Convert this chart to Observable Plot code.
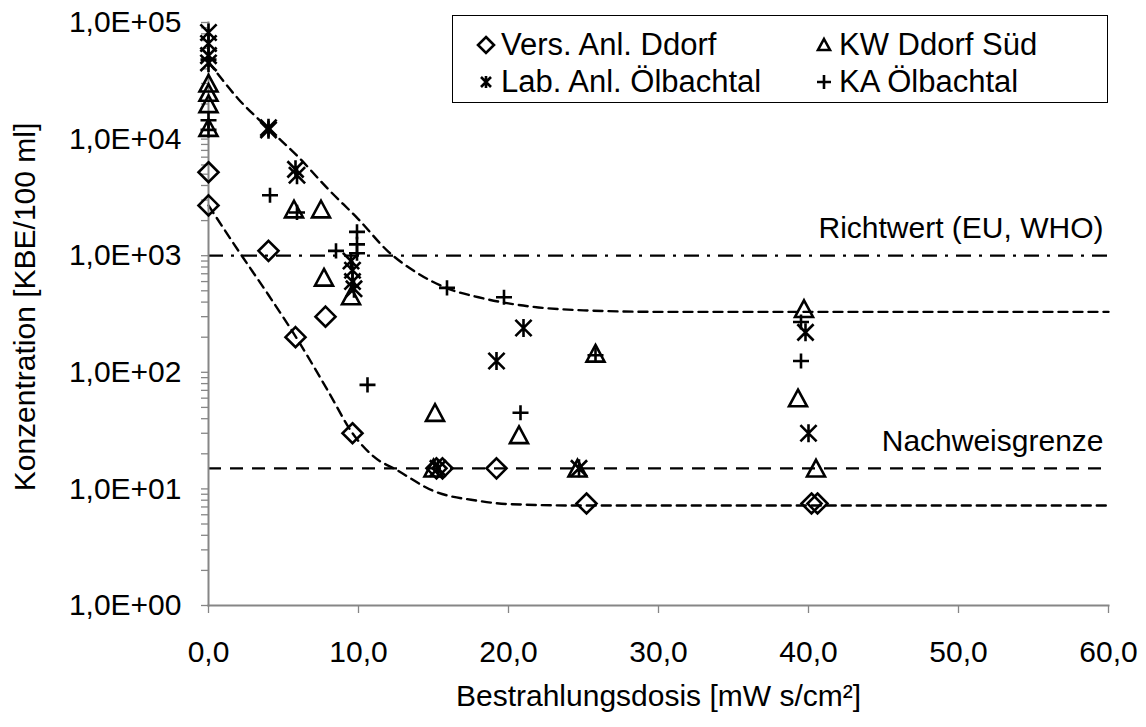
<!DOCTYPE html>
<html><head><meta charset="utf-8">
<script src="https://cdn.jsdelivr.net/npm/d3@7"></script>
<script src="https://cdn.jsdelivr.net/npm/@observablehq/plot@0.6"></script>
<style>
body{margin:0;background:#fff;font-family:"Liberation Sans",Arial,sans-serif;}
#wrap{position:relative;width:1146px;height:727px;}
#legend{position:absolute;left:452px;top:15px;width:656px;height:88px;border:1.5px solid #000;background:#fff;box-sizing:border-box;font-size:31px;color:#000;}
.item{position:absolute;display:flex;align-items:center;white-space:nowrap;height:36px;}
.item svg{margin-right:4px;}
</style></head><body><div id="wrap"></div>
<script>
// Series: Vers. Anl. Ddorf (diamonds)
const versX = [0, 0, 4.0, 5.8, 7.8, 9.6, 15.2, 15.6, 19.2, 25.2, 40.2, 40.6];
const versY = [5200, 2700, 1100, 200, 300, 30, 15, 15, 15, 7.5, 7.5, 7.5];
// KW Ddorf Süd (triangles)
const kwX = [0, 0, 0, 0, 5.7, 7.5, 7.7, 9.5, 15.0, 15.1, 20.7, 24.6, 25.8, 39.3, 39.7, 40.5];
const kwY = [30000, 25000, 20000, 12500, 2500, 2500, 650, 450, 15, 45, 29, 15, 145, 60, 350, 15];
// Lab. Anl. Ölbachtal (asterisks)
const labX = [0, 0, 0, 0, 4.0, 4.0, 5.8, 5.9, 9.5, 9.6, 9.6, 9.7, 15.3, 19.2, 21.0, 24.7, 39.8, 40.0];
const labY = [82000, 66000, 52000, 45000, 12500, 12000, 5500, 4900, 900, 750, 600, 520, 15, 125, 240, 15, 220, 30];
// KA Ölbachtal (plus)
const kaX = [0, 0, 0, 4.1, 5.9, 8.5, 9.9, 9.9, 9.9, 10.6, 15.9, 19.7, 20.8, 25.8, 39.5, 39.5];
const kaY = [48000, 14500, 12000, 3300, 2350, 1100, 1600, 1250, 1050, 78, 530, 440, 45, 140, 270, 125];
// Fitted dashed curves
const upperX = [0, 2, 4, 6, 8, 10, 12, 14, 16, 18, 20, 22, 25, 30, 40, 50, 60];
const upperY = [46000, 22000, 12300, 7000, 3700, 2050, 1080, 700, 520, 440, 390, 360, 340, 330, 330, 330, 330];
const lowerX = [0, 2, 4, 6, 8, 9.6, 11, 12.6, 15, 18, 20, 25, 30, 40, 60];
const lowerY = [2700, 1100, 460, 185, 68, 30, 19, 14.4, 9.6, 7.9, 7.4, 7.2, 7.2, 7.2, 7.2];
// Reference lines
const refValues = [1000, 15];
const refLabels = ["Richtwert (EU, WHO)", "Nachweisgrenze"];
// Ticks
const xTicks = [0, 10, 20, 30, 40, 50, 60];
const yTicks = [1, 10, 100, 1000, 10000, 100000];
const seriesNames = ["Vers. Anl. Ddorf", "KW Ddorf Süd", "Lab. Anl. Ölbachtal", "KA Ölbachtal"];
const xTitle = "Bestrahlungsdosis [mW s/cm²]";
const yTitle = "Konzentration [KBE/100 ml]";

const zip = (xs, ys) => xs.map((x, i) => ({x, y: ys[i]}));
const minorTicks = [];
for (const t of yTicks.slice(0, -1)) for (let k = 2; k <= 9; k++) minorTicks.push(t * k);

const rad = (size) => Math.sqrt(size / Math.PI);
const diamondSym = {draw(c, s){const r = rad(s); c.moveTo(0,-r); c.lineTo(r,0); c.lineTo(0,r); c.lineTo(-r,0); c.closePath();}};
const triSym = {draw(c, s){const r = rad(s); c.moveTo(0,-r*0.95); c.lineTo(r,r*0.9); c.lineTo(-r,r*0.9); c.closePath();}};
const starSym = {draw(c, s){const r = rad(s); const d = r*0.9; c.moveTo(-d,-d); c.lineTo(d,d); c.moveTo(d,-d); c.lineTo(-d,d); c.moveTo(0,-r); c.lineTo(0,r);}};
const plusSym = {draw(c, s){const r = rad(s); c.moveTo(-r,0); c.lineTo(r,0); c.moveTo(0,-r*0.95); c.lineTo(0,r*0.95);}};

const gray = "#868686";
const fmtX = d => d.toFixed(1).replace(".", ",");
const fmtY = d => { const e = Math.round(Math.log10(d)); return "1,0E+" + String(e).padStart(2, "0"); };
const refData = refValues.map((v, i) => ({v, label: refLabels[i]}));

const chart = Plot.plot({
  width: 1146, height: 727,
  marginLeft: 208, marginRight: 38, marginTop: 22, marginBottom: 122,
  style: {fontFamily: "'Liberation Sans', Arial, sans-serif", fontSize: "30px", color: "#000", background: "#fff"},
  x: {domain: [0, 60]},
  y: {type: "log", domain: [1, 100000]},
  marks: [
    Plot.ruleY([refData[0]], {y: "v", stroke: "#000", strokeWidth: 2.2, strokeDasharray: "15,8,3,8"}),
    Plot.ruleY([refData[1]], {y: "v", stroke: "#000", strokeWidth: 2.2, strokeDasharray: "13,9"}),
    Plot.text(refData, {y: "v", text: "label", frameAnchor: "right", textAnchor: "end", dx: -5, dy: -27, fontSize: 30, fill: "#000"}),
    Plot.line(zip(upperX, upperY), {x: "x", y: "y", curve: "monotone-x", stroke: "#000", strokeWidth: 2.4, strokeDasharray: "9,6"}),
    Plot.line(zip(lowerX, lowerY), {x: "x", y: "y", curve: "monotone-x", stroke: "#000", strokeWidth: 2.4, strokeDasharray: "9,6"}),
    Plot.axisY(minorTicks, {tickSize: 7, tickFormat: () => "", stroke: gray, strokeWidth: 1.3, label: null}),
    Plot.axisY(yTicks, {tickSize: 7, tickPadding: 20, tickFormat: fmtY, stroke: gray, strokeWidth: 1.3, label: null, fontSize: 30}),
    Plot.axisX(xTicks, {tickSize: 8, tickPadding: 27, tickFormat: fmtX, stroke: gray, strokeWidth: 1.3, label: null, fontSize: 30}),
    Plot.frame({anchor: "left", stroke: gray, strokeWidth: 2}),
    Plot.frame({anchor: "bottom", stroke: gray, strokeWidth: 2}),
    Plot.dot(zip(versX, versY), {x: "x", y: "y", symbol: diamondSym, r: 10, stroke: "#000", strokeWidth: 2.6, fill: "none"}),
    Plot.dot(zip(kwX, kwY), {x: "x", y: "y", symbol: triSym, r: 9, stroke: "#000", strokeWidth: 2.6, fill: "none"}),
    Plot.dot(zip(labX, labY), {x: "x", y: "y", symbol: starSym, r: 9, stroke: "#000", strokeWidth: 2.6, fill: "none"}),
    Plot.dot(zip(kaX, kaY), {x: "x", y: "y", symbol: plusSym, r: 8, stroke: "#000", strokeWidth: 2.6, fill: "none"}),
    Plot.text([yTitle], {text: d => d, frameAnchor: "left", textAnchor: "middle", dx: -183, dy: -7, rotate: -90, fontSize: 30, fill: "#000"}),
    Plot.text([xTitle], {text: d => d, frameAnchor: "bottom", textAnchor: "middle", dy: 100, fontSize: 30, fill: "#000"})
  ]
});
const wrap = document.getElementById("wrap");
wrap.appendChild(chart);

// Legend overlay
const icons = [
  '<path d="M0,-8L8,0L0,8L-8,0Z"/>',
  '<path d="M0,-6L6,5L-6,5Z"/>',
  '<path d="M-5,-5L5,5M5,-5L-5,5M0,-6L0,6"/>',
  '<path d="M-7,0L7,0M0,-7L0,7"/>'
];
const legend = document.createElement("div");
legend.id = "legend";
const pos = [[22, 11], [360, 11], [22, 48], [360, 48]];
seriesNames.forEach((name, i) => {
  const it = document.createElement("div");
  it.className = "item";
  it.style.left = pos[i][0] + "px";
  it.style.top = pos[i][1] + "px";
  it.innerHTML = `<svg width="22" height="22" viewBox="-11 -11 22 22"><g fill="none" stroke="#000" stroke-width="2.6">${icons[i]}</g></svg><span>${name}</span>`;
  legend.appendChild(it);
});
wrap.appendChild(legend);
</script></body></html>
